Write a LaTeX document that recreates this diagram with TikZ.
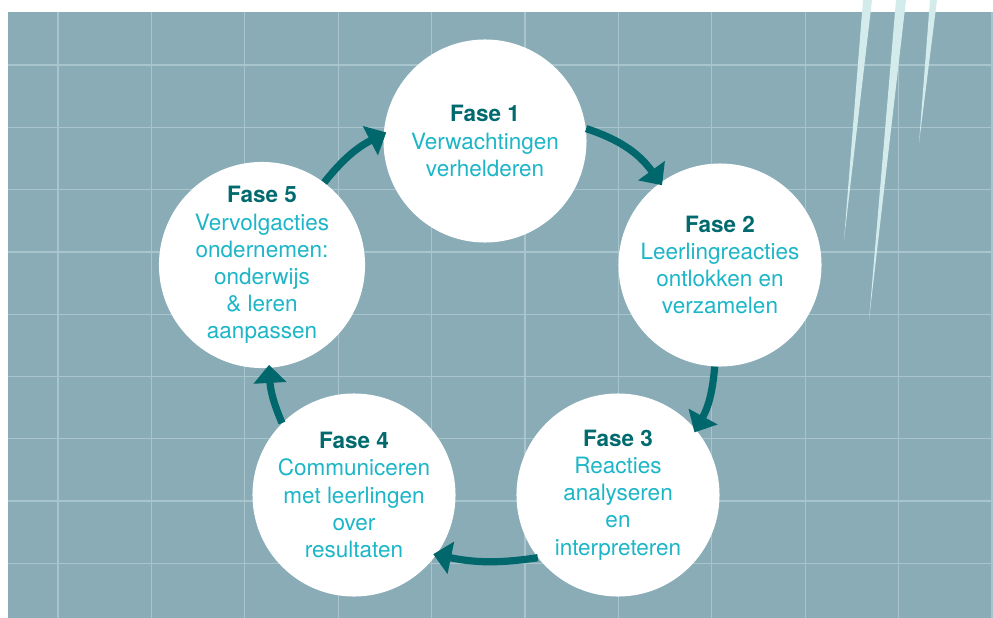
\documentclass[tikz,border=0pt]{standalone}
\usepackage{fontspec}
\setmainfont{TeX Gyre Heros}
\usepackage{tikz}
\usetikzlibrary{arrows.meta}
\definecolor{panegrey}{RGB}{137,172,182}
\definecolor{gridline}{RGB}{168,197,205}
\definecolor{streakwhite}{RGB}{212,235,236}
\definecolor{faseteal}{RGB}{0,106,111}
\definecolor{fasecyan}{RGB}{28,182,200}
\definecolor{arrowteal}{RGB}{0,104,108}
\newcommand{\fasetitle}[1]{\textcolor{faseteal}{\textbf{Fase #1}}}

\begin{document}
\begin{tikzpicture}[x=0.025cm, y=-0.025cm,
    phase/.style={circle, fill=white, minimum size=5.075cm, inner sep=0pt, align=center,
        text=fasecyan, font=\fontsize{16}{19.3}\selectfont},
    cyclearrow/.style={draw=arrowteal, line width=0.18cm,
        -{Triangle[length=0.45cm, width=0.8cm]}, shorten >=-0.08cm}]
    \useasboundingbox (0,0) rectangle (993,618);

    % background with grid
    \fill[panegrey] (8,12) rectangle (993,618);
    \foreach \k in {0,...,10}
        \draw[gridline, line width=0.9pt] (58+93.4*\k,12) -- (58+93.4*\k,618);
    \foreach \k in {0,...,8}
        \draw[gridline, line width=0.9pt] (8,65+62.3*\k) -- (993,65+62.3*\k);

    % light streaks top right
    \fill[streakwhite] (863,0) -- (872,0) -- (844,240) -- cycle;
    \fill[streakwhite] (896,0) -- (906,0) -- (869,320) -- cycle;
    \fill[streakwhite] (930,0) -- (937,0) -- (919,143) -- cycle;

    % the five phases
    \node[phase] (f1) at (485,141) {\fasetitle{1}\\Verwachtingen\\verhelderen};
    \node[phase] (f2) at (720,265) {\fasetitle{2}\\Leerlingreacties\\ontlokken en\\verzamelen};
    \node[phase] (f3) at (618,495) {\fasetitle{3}\\Reacties\\analyseren\\en\\interpreteren};
    \node[phase] (f4) at (354,495) {\fasetitle{4}\\Communiceren\\met leerlingen\\over\\resultaten};
    \node[phase] (f5) at (262,265) {\fasetitle{5}\\Vervolgacties\\ondernemen:\\onderwijs\\\& leren\\aanpassen};

    % cycle
    \draw[cyclearrow] (f1.7) to[bend left=18] (f2.126);
    \draw[cyclearrow] (f2.-93) to[bend left=12] (f3.40);
    \draw[cyclearrow] (f3.-142) to[bend left=10] (f4.-36);
    \draw[cyclearrow] (f4.135) to[bend left=10] (f5.-86);
    \draw[cyclearrow] (f5.53) to[bend left=12] (f1.176);
\end{tikzpicture}
\end{document}
